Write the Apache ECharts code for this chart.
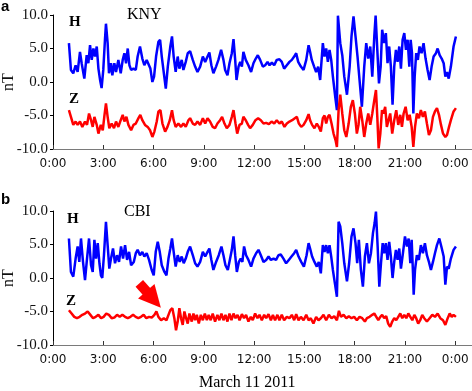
<!DOCTYPE html>
<html>
<head>
<meta charset="utf-8">
<script src="https://cdn.jsdelivr.net/npm/echarts@6/dist/echarts.min.js"></script>
<style>
  html, body { margin: 0; padding: 0; background: #fff; }
  #chart { width: 472px; height: 391px; }
</style>
</head>
<body>
<div id="chart"></div>
<script>
// hours (UT) of March 11 2011 and magnetic field in nT
var hourTicks = [0, 3, 6, 9, 12, 15, 18, 21, 24];
var yTicks = [-10, -5, 0, 5, 10];

var knyH = [[0.95,5.8],[1.07,1.8],[1.21,1.3],[1.35,2.5],[1.47,1.5],[1.61,4.5],[1.71,2.8],[1.87,0.5],[2.01,4.0],[2.11,2.8],[2.21,5.5],[2.31,3.3],[2.41,5.0],[2.51,3.8],[2.61,5.3],[2.71,2.0],[2.81,0.3],[2.9,-0.9],[3.0,1.8],[3.1,6.3],[3.16,8.7],[3.26,5.8],[3.34,1.3],[3.46,2.8],[3.54,1.0],[3.66,2.8],[3.76,1.5],[3.9,3.3],[4.04,1.3],[4.16,3.3],[4.26,4.3],[4.36,2.8],[4.46,5.0],[4.56,2.5],[4.66,1.8],[4.8,2.0],[4.94,1.8],[5.05,3.8],[5.19,5.3],[5.33,3.5],[5.45,2.5],[5.59,3.3],[5.69,3.5],[5.81,2.0],[5.93,0.0],[6.03,0.8],[6.15,3.8],[6.29,6.0],[6.39,6.3],[6.49,3.8],[6.63,1.0],[6.73,-1.0],[6.85,2.3],[7.0,5.3],[7.1,6.8],[7.2,3.8],[7.32,1.5],[7.44,3.8],[7.54,2.0],[7.68,3.3],[7.78,1.8],[7.92,3.0],[8.04,4.3],[8.18,4.6],[8.34,3.3],[8.48,2.3],[8.62,1.5],[8.78,2.3],[8.94,3.8],[9.08,3.0],[9.22,3.8],[9.33,4.4],[9.45,2.5],[9.57,1.3],[9.73,2.3],[9.87,3.3],[10.03,4.8],[10.17,3.3],[10.27,1.8],[10.41,1.0],[10.53,2.8],[10.67,4.3],[10.77,6.4],[10.87,3.3],[10.95,0.3],[11.07,2.3],[11.17,3.0],[11.27,2.3],[11.36,4.5],[11.5,3.3],[11.66,2.5],[11.82,1.5],[11.96,2.8],[12.1,3.5],[12.22,4.0],[12.36,3.3],[12.52,2.3],[12.66,2.5],[12.8,3.0],[12.92,2.5],[13.06,2.9],[13.2,2.5],[13.35,3.3],[13.51,3.4],[13.65,3.0],[13.79,2.0],[13.95,2.5],[14.11,3.0],[14.25,3.3],[14.39,3.8],[14.51,4.3],[14.63,3.0],[14.79,2.3],[14.95,1.8],[15.11,3.3],[15.25,5.5],[15.34,4.5],[15.44,3.3],[15.58,2.3],[15.7,1.5],[15.82,2.3],[15.94,0.3],[16.1,5.8],[16.2,3.8],[16.3,5.0],[16.4,3.0],[16.5,4.8],[16.6,3.3],[16.7,0.8],[16.84,-2.2],[16.94,-4.2],[17.0,9.9],[17.14,5.8],[17.26,4.0],[17.38,0.8],[17.54,-1.9],[17.7,2.3],[17.81,6.8],[17.93,9.8],[18.05,6.8],[18.17,3.8],[18.29,0.3],[18.43,-3.7],[18.57,2.3],[18.69,5.8],[18.81,3.5],[18.93,5.3],[19.05,0.8],[19.17,6.8],[19.25,9.9],[19.35,4.8],[19.45,-0.2],[19.55,2.3],[19.64,7.8],[19.76,5.8],[19.86,7.3],[19.96,2.8],[20.06,5.3],[20.16,2.3],[20.26,-3.4],[20.36,2.3],[20.46,4.8],[20.56,3.0],[20.66,5.3],[20.76,2.0],[20.86,6.3],[20.96,7.3],[21.06,4.8],[21.16,6.3],[21.26,2.3],[21.34,6.3],[21.42,4.3],[21.5,-4.7],[21.58,0.8],[21.67,4.3],[21.77,3.3],[21.87,5.3],[21.99,4.3],[22.11,5.8],[22.23,3.5],[22.35,1.8],[22.47,0.3],[22.59,2.3],[22.71,3.8],[22.85,4.3],[22.95,5.0],[23.07,4.0],[23.19,3.5],[23.31,2.8],[23.41,0.8],[23.51,1.5],[23.61,0.5],[23.74,2.3],[23.9,5.3],[24.04,6.8]];

var knyZ = [[0.95,-4.2],[1.07,-5.2],[1.21,-6.4],[1.35,-5.9],[1.47,-6.4],[1.61,-5.9],[1.75,-6.7],[1.91,-5.9],[2.03,-6.4],[2.15,-4.7],[2.27,-5.7],[2.37,-6.7],[2.47,-5.2],[2.61,-6.4],[2.71,-7.7],[2.85,-6.4],[2.97,-7.2],[3.06,-5.2],[3.16,-3.2],[3.26,-5.2],[3.36,-6.9],[3.5,-6.2],[3.64,-6.9],[3.76,-5.9],[3.9,-6.7],[4.04,-5.7],[4.16,-4.9],[4.26,-5.9],[4.38,-5.2],[4.5,-6.4],[4.66,-7.2],[4.8,-6.4],[4.94,-6.2],[5.1,-5.4],[5.21,-4.9],[5.33,-5.7],[5.49,-6.4],[5.65,-6.7],[5.79,-7.2],[5.93,-8.2],[6.05,-7.4],[6.19,-5.9],[6.29,-4.4],[6.41,-4.2],[6.53,-6.2],[6.69,-7.4],[6.83,-6.7],[6.97,-5.7],[7.1,-4.2],[7.2,-5.7],[7.32,-6.7],[7.48,-6.2],[7.64,-6.7],[7.78,-6.2],[7.92,-6.7],[8.08,-5.7],[8.18,-5.4],[8.34,-6.2],[8.48,-6.4],[8.62,-5.9],[8.78,-6.4],[8.94,-5.4],[9.08,-6.2],[9.22,-5.4],[9.37,-5.9],[9.53,-6.7],[9.67,-6.9],[9.81,-6.2],[9.97,-5.7],[10.09,-5.2],[10.23,-6.2],[10.37,-6.9],[10.53,-6.4],[10.67,-5.2],[10.77,-4.2],[10.89,-6.2],[10.99,-7.7],[11.13,-6.4],[11.27,-6.2],[11.36,-5.2],[11.5,-5.7],[11.64,-6.4],[11.76,-6.9],[11.92,-6.4],[12.08,-5.7],[12.24,-5.4],[12.4,-5.7],[12.56,-6.2],[12.72,-6.1],[12.88,-6.3],[13.04,-5.9],[13.2,-6.2],[13.35,-5.7],[13.51,-6.2],[13.65,-5.9],[13.81,-6.7],[13.95,-6.2],[14.11,-5.9],[14.27,-5.7],[14.43,-5.4],[14.55,-5.2],[14.67,-6.2],[14.81,-6.7],[14.95,-6.4],[15.11,-5.7],[15.25,-4.8],[15.34,-5.7],[15.46,-6.4],[15.6,-6.9],[15.74,-6.2],[15.86,-6.7],[15.98,-7.4],[16.1,-5.4],[16.2,-5.0],[16.3,-6.2],[16.4,-5.2],[16.5,-4.9],[16.62,-6.2],[16.74,-7.7],[16.86,-8.7],[16.94,-9.7],[17.04,-4.2],[17.14,-1.9],[17.26,-4.7],[17.38,-7.2],[17.5,-8.2],[17.64,-6.2],[17.77,-3.7],[17.89,-2.7],[18.01,-4.7],[18.13,-7.7],[18.23,-6.4],[18.33,-3.7],[18.45,-5.7],[18.57,-8.2],[18.69,-6.2],[18.81,-4.7],[18.93,-6.4],[19.05,-4.7],[19.17,-2.7],[19.27,-1.2],[19.35,-5.2],[19.43,-9.9],[19.53,-7.7],[19.63,-4.2],[19.72,-4.7],[19.82,-3.7],[19.92,-6.7],[20.02,-5.7],[20.12,-4.7],[20.24,-7.7],[20.36,-5.7],[20.48,-4.2],[20.6,-6.4],[20.72,-4.9],[20.82,-6.7],[20.92,-4.7],[21.04,-3.7],[21.16,-5.7],[21.28,-4.9],[21.4,-6.7],[21.5,-9.7],[21.6,-6.7],[21.71,-4.7],[21.83,-5.4],[21.95,-4.2],[22.07,-5.2],[22.19,-4.4],[22.31,-6.2],[22.43,-7.9],[22.55,-7.2],[22.67,-5.2],[22.79,-4.4],[22.91,-3.9],[23.03,-4.9],[23.15,-6.4],[23.27,-7.7],[23.41,-8.2],[23.51,-7.9],[23.63,-6.7],[23.74,-5.7],[23.9,-4.4],[24.04,-3.9]];

var cbiH = [[0.95,5.9],[1.07,0.9],[1.21,0.2],[1.35,2.9],[1.47,4.7],[1.57,2.4],[1.67,5.9],[1.79,2.4],[1.91,-0.3],[2.03,2.9],[2.15,5.9],[2.27,1.9],[2.37,0.9],[2.47,5.7],[2.57,2.9],[2.67,5.2],[2.77,2.2],[2.86,0.4],[2.94,0.0],[3.04,3.4],[3.16,8.4],[3.26,4.9],[3.36,1.4],[3.46,2.9],[3.58,4.4],[3.7,2.2],[3.82,3.4],[3.94,2.4],[4.06,4.7],[4.18,2.9],[4.3,4.9],[4.42,2.7],[4.54,3.9],[4.66,1.9],[4.82,2.4],[4.94,3.7],[5.05,4.2],[5.19,3.4],[5.33,3.9],[5.45,3.2],[5.59,3.7],[5.73,2.7],[5.89,1.2],[6.01,0.4],[6.13,3.9],[6.25,5.4],[6.37,3.9],[6.49,1.9],[6.65,0.9],[6.77,0.4],[6.89,2.9],[7.0,4.4],[7.1,5.9],[7.2,3.9],[7.32,1.7],[7.44,3.4],[7.56,2.4],[7.68,3.2],[7.8,2.2],[7.92,2.9],[8.04,3.9],[8.18,4.7],[8.34,3.4],[8.48,2.2],[8.62,1.7],[8.78,2.4],[8.94,3.9],[9.08,3.2],[9.22,3.9],[9.33,4.4],[9.45,2.7],[9.57,1.2],[9.73,2.4],[9.89,3.4],[10.05,4.7],[10.17,3.4],[10.29,1.9],[10.43,1.2],[10.55,2.7],[10.67,4.2],[10.77,6.2],[10.87,3.4],[10.97,0.9],[11.09,2.4],[11.2,2.9],[11.3,2.4],[11.4,4.7],[11.52,3.4],[11.66,2.7],[11.82,1.7],[11.96,2.9],[12.12,3.7],[12.26,4.2],[12.4,3.4],[12.56,2.4],[12.72,2.7],[12.86,3.2],[13.0,2.7],[13.16,2.9],[13.31,2.7],[13.45,3.4],[13.59,3.5],[13.75,2.9],[13.91,2.2],[14.07,2.7],[14.23,3.2],[14.39,3.7],[14.51,4.2],[14.65,3.2],[14.81,2.4],[14.97,1.7],[15.13,3.4],[15.25,5.2],[15.34,4.4],[15.46,3.2],[15.6,2.4],[15.74,1.7],[15.86,2.4],[15.98,0.7],[16.1,4.9],[16.2,3.9],[16.3,4.9],[16.4,3.7],[16.5,4.9],[16.6,3.2],[16.7,1.2],[16.82,-0.8],[16.94,-2.8],[17.04,8.4],[17.14,7.7],[17.26,5.2],[17.38,2.2],[17.54,-0.5],[17.67,2.2],[17.81,6.2],[17.93,7.4],[18.05,5.2],[18.15,2.2],[18.25,5.7],[18.37,1.2],[18.49,-1.3],[18.61,3.2],[18.73,5.2],[18.85,2.2],[18.97,3.7],[19.09,6.7],[19.19,8.2],[19.27,9.9],[19.37,4.7],[19.47,-1.3],[19.57,2.2],[19.67,5.2],[19.76,3.7],[19.86,5.2],[19.96,2.7],[20.06,5.4],[20.16,3.2],[20.26,0.0],[20.36,2.4],[20.46,4.2],[20.56,2.7],[20.66,4.4],[20.76,1.4],[20.88,3.7],[21.0,6.2],[21.12,4.7],[21.22,5.9],[21.32,2.2],[21.4,5.7],[21.48,0.7],[21.52,-2.5],[21.6,1.2],[21.71,3.4],[21.83,2.7],[21.95,4.9],[22.07,3.7],[22.19,5.2],[22.31,3.4],[22.43,2.4],[22.55,1.2],[22.67,2.4],[22.79,3.7],[22.91,4.9],[23.05,5.9],[23.17,4.7],[23.31,3.2],[23.41,-1.0],[23.51,1.7],[23.61,1.4],[23.74,2.9],[23.9,4.2],[24.04,4.7]];

var cbiZ = [[0.95,-4.8],[1.11,-5.3],[1.27,-5.8],[1.43,-6.0],[1.59,-5.8],[1.75,-5.5],[1.91,-5.3],[2.07,-5.0],[2.23,-5.5],[2.39,-6.0],[2.55,-5.8],[2.71,-5.5],[2.87,-6.0],[3.02,-5.8],[3.18,-5.3],[3.34,-5.5],[3.5,-6.0],[3.66,-5.9],[3.82,-5.5],[3.98,-5.8],[4.14,-5.5],[4.3,-5.8],[4.46,-6.0],[4.62,-5.8],[4.78,-5.5],[4.93,-5.8],[5.09,-6.0],[5.25,-5.8],[5.41,-5.5],[5.57,-6.0],[5.73,-5.8],[5.89,-5.9],[6.05,-5.5],[6.17,-5.0],[6.29,-5.8],[6.45,-6.3],[6.61,-6.0],[6.77,-6.3],[6.89,-5.5],[7.0,-4.8],[7.12,-4.5],[7.24,-6.0],[7.34,-7.8],[7.44,-6.5],[7.54,-4.5],[7.64,-6.0],[7.74,-7.0],[7.84,-5.0],[7.94,-6.0],[8.04,-6.8],[8.14,-5.3],[8.28,-6.5],[8.38,-5.3],[8.48,-6.3],[8.58,-5.5],[8.7,-6.8],[8.82,-5.5],[8.94,-6.3],[9.06,-5.3],[9.18,-6.3],[9.29,-5.5],[9.41,-6.3],[9.53,-5.3],[9.67,-6.5],[9.81,-5.5],[9.93,-6.3],[10.05,-5.3],[10.17,-6.3],[10.29,-5.5],[10.41,-6.5],[10.53,-5.3],[10.65,-6.3],[10.77,-5.3],[10.89,-6.0],[11.01,-5.5],[11.13,-6.3],[11.27,-5.4],[11.4,-6.0],[11.52,-5.5],[11.66,-6.5],[11.8,-5.8],[11.92,-6.3],[12.06,-5.3],[12.2,-6.0],[12.32,-5.5],[12.46,-6.3],[12.6,-5.5],[12.72,-6.0],[12.86,-5.4],[13.0,-6.3],[13.12,-5.5],[13.25,-6.3],[13.39,-5.5],[13.51,-6.3],[13.65,-5.5],[13.79,-6.3],[13.95,-5.8],[14.11,-6.0],[14.25,-5.5],[14.39,-6.3],[14.51,-5.4],[14.65,-6.3],[14.79,-5.8],[14.95,-6.3],[15.11,-5.5],[15.25,-6.3],[15.38,-6.0],[15.54,-6.8],[15.7,-5.8],[15.84,-6.3],[15.98,-6.0],[16.14,-5.5],[16.3,-6.3],[16.46,-5.5],[16.62,-6.0],[16.78,-5.7],[16.94,-6.3],[17.06,-4.9],[17.18,-5.8],[17.34,-5.5],[17.5,-6.0],[17.65,-5.7],[17.81,-6.0],[17.97,-5.8],[18.13,-6.3],[18.29,-5.8],[18.45,-6.0],[18.61,-6.5],[18.73,-6.0],[18.89,-5.8],[19.05,-5.5],[19.17,-5.3],[19.29,-5.8],[19.41,-6.3],[19.53,-5.8],[19.64,-5.5],[19.76,-6.0],[19.88,-5.7],[20.0,-6.8],[20.12,-7.3],[20.24,-6.5],[20.36,-6.0],[20.48,-6.3],[20.6,-5.8],[20.72,-5.3],[20.84,-6.0],[20.96,-5.5],[21.08,-6.0],[21.2,-5.3],[21.32,-5.8],[21.44,-6.3],[21.56,-5.5],[21.67,-6.0],[21.79,-6.8],[21.91,-6.3],[22.03,-5.5],[22.15,-6.0],[22.31,-6.5],[22.47,-6.0],[22.63,-5.5],[22.79,-5.8],[22.95,-5.3],[23.11,-6.0],[23.27,-6.3],[23.41,-7.0],[23.55,-6.0],[23.67,-5.3],[23.79,-5.8],[23.9,-5.5],[24.04,-5.8]];

// arrow in panel b: tail and head, in (hour, nT)
var arrowFrom = [5.15, -0.8];
var arrowTo = [6.0, -3.2];

var serif = 'Liberation Serif';
var myChart = echarts.init(document.getElementById('chart'));

function xAxisCfg(idx) {
  return {
    type: 'value', gridIndex: idx, min: 0, max: 25, interval: 3,
    splitLine: { show: false },
    axisLine: { show: true, onZero: false, lineStyle: { color: '#7a7a7a', width: 1 } },
    axisTick: { show: true, inside: true, length: 4, customValues: hourTicks, lineStyle: { color: '#333' } },
    axisLabel: {
      customValues: hourTicks, margin: 9,
      fontFamily: 'DejaVu Sans', fontSize: 12, color: '#111',
      formatter: function (v) { return (v % 24) + ':00'; }
    }
  };
}
function yAxisCfg(idx) {
  return {
    type: 'value', gridIndex: idx, min: -10, max: 10, interval: 5,
    name: 'nT', nameLocation: 'middle', nameGap: 36, nameRotate: 90, nameMoveOverlap: false,
    nameTextStyle: { fontFamily: serif, fontSize: 16, color: '#111' },
    splitLine: { show: false },
    axisLine: { show: true, lineStyle: { color: '#000', width: 1 } },
    axisTick: { show: true, inside: false, length: 3, lineStyle: { color: '#000' } },
    axisLabel: {
      margin: 5, fontFamily: serif, fontSize: 15, color: '#111',
      formatter: function (v) { return v.toFixed(1); }
    }
  };
}
function line(name, data, color, idx) {
  return {
    name: name, type: 'line', xAxisIndex: idx, yAxisIndex: idx,
    data: data, showSymbol: false, symbol: 'none',
    lineStyle: { color: color, width: 2.5 }, z: color === '#ff0000' ? 3 : 2
  };
}
function txt(s, x, y, size, bold, font) {
  return {
    type: 'text', left: x, top: y,
    style: { text: s, fontFamily: font || serif, fontSize: size, fontWeight: bold ? 'bold' : 'normal', fill: '#000' }
  };
}

var cbiZSeries = line('CBI Z', cbiZ, '#ff0000', 1);
cbiZSeries.markLine = {
  silent: true, symbol: ['none', 'triangle'], symbolSize: 22,
  label: { show: false },
  lineStyle: { color: '#ff0000', width: 10, type: 'solid', cap: 'butt' },
  itemStyle: { color: '#ff0000' },
  data: [[{ coord: arrowFrom }, { coord: arrowTo }]]
};

option = {
  animation: false,
  backgroundColor: '#fff',
  grid: [
    { left: 53, top: 15, width: 419, height: 134, containLabel: false, outerBoundsMode: 'none' },
    { left: 53, top: 211, width: 419, height: 134, containLabel: false, outerBoundsMode: 'none' }
  ],
  xAxis: [xAxisCfg(0), xAxisCfg(1)],
  yAxis: [yAxisCfg(0), yAxisCfg(1)],
  series: [
    line('KNY H', knyH, '#0000ff', 0),
    line('KNY Z', knyZ, '#ff0000', 0),
    line('CBI H', cbiH, '#0000ff', 1),
    cbiZSeries
  ],
  graphic: [
    txt('a', 1, -1, 15, true, 'Liberation Sans'),
    txt('b', 1, 192, 15, true, 'Liberation Sans'),
    txt('H', 69, 15, 15, true),
    txt('Z', 69, 92, 15, true),
    txt('KNY', 127, 7, 16, false),
    txt('H', 67, 212, 15, true),
    txt('Z', 66, 294, 15, true),
    txt('CBI', 124, 204, 16, false),
    txt('March 11 2011', 199, 375, 16, false)
  ]
};
myChart.setOption(option);
</script>
</body>
</html>
